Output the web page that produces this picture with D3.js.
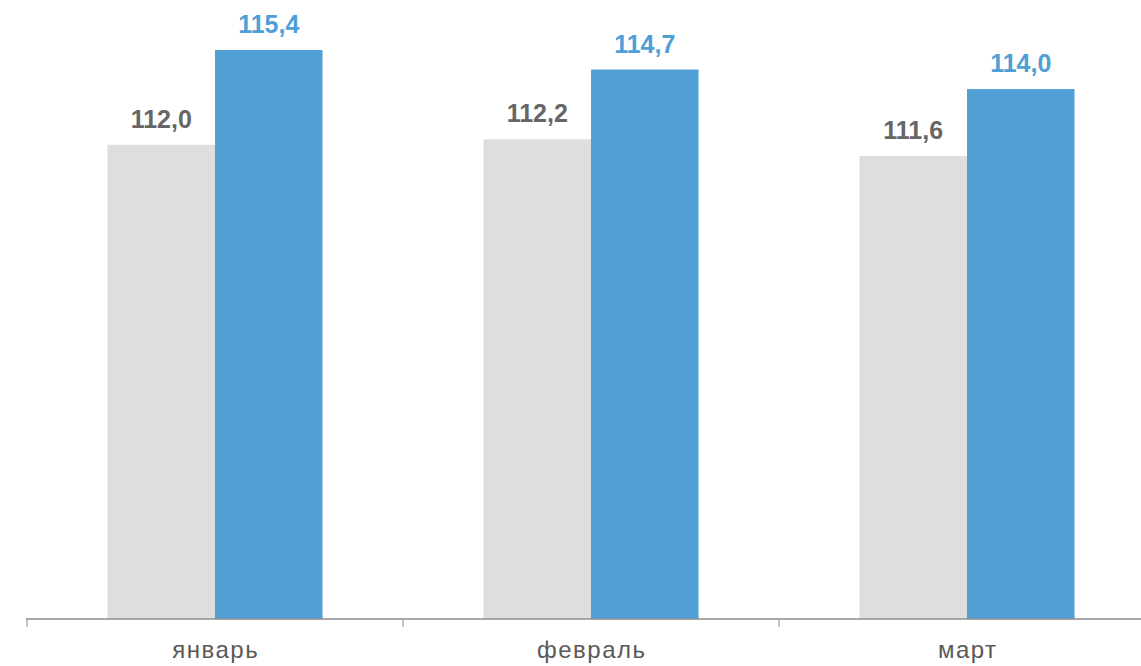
<!DOCTYPE html>
<html lang="ru">
<head>
<meta charset="UTF-8">
<title>Chart</title>
<script src="https://d3js.org/d3.v7.min.js"></script>
<style>
  body { margin: 0; background: #fff; }
  text { font-family: "Liberation Sans", Arial, sans-serif; }
</style>
</head>
<body>
<svg id="chart"></svg>
<script>
const months = ["январь", "февраль", "март"];
const seriesGray = [112.0, 112.2, 111.6];
const seriesBlue = [115.4, 114.7, 114.0];

const width = 1141, height = 666;
const baseY = 619;
const grayColor = "#dedede";
const blueColor = "#529fd6";

const svg = d3.select("#chart").attr("width", width).attr("height", height);

const x = d3.scaleBand().domain(months).range([27, 1155])
    .paddingInner(0.428).paddingOuter(0.214);
const sub = d3.scaleBand().domain(["gray", "blue"]).range([0, x.bandwidth()]);
const y = d3.scaleLinear().domain([95, 115.4]).range([baseY, 50]);

const fmt = v => d3.format(".1f")(v).replace(".", ",");

const rows = months.map((m, i) => ({m, gray: seriesGray[i], blue: seriesBlue[i]}));

const groups = svg.append("g").selectAll("g").data(rows).enter().append("g")
    .attr("transform", d => `translate(${x(d.m)},0)`);

[["gray", grayColor, "#666666"], ["blue", blueColor, "#4f9fd7"]].forEach(([key, fill, tc]) => {
    groups.append("rect")
        .attr("x", sub(key))
        .attr("width", sub.bandwidth())
        .attr("y", d => y(d[key]))
        .attr("height", d => baseY - y(d[key]))
        .attr("fill", fill);
    groups.append("text")
        .attr("x", sub(key) + sub.bandwidth() / 2)
        .attr("y", d => y(d[key]) - 17)
        .attr("text-anchor", "middle")
        .attr("font-size", 25)
        .attr("font-weight", "bold")
        .attr("fill", tc)
        .text(d => fmt(d[key]));
});

// axis
const axis = svg.append("g");
axis.append("line")
    .attr("x1", 26).attr("x2", width).attr("y1", baseY).attr("y2", baseY)
    .attr("stroke", "#8c8c8c").attr("stroke-width", 1.5);
const step = x.step();
axis.selectAll("line.tick").data(d3.range(months.length + 1)).enter().append("line")
    .attr("class", "tick")
    .attr("x1", i => 27 + i * step).attr("x2", i => 27 + i * step)
    .attr("y1", baseY).attr("y2", baseY + 8)
    .attr("stroke", "#8c8c8c").attr("stroke-width", 1);
axis.selectAll("text").data(months).enter().append("text")
    .attr("x", d => x(d) + x.bandwidth() / 2 + 0.75)
    .attr("y", 658)
    .attr("text-anchor", "middle")
    .attr("font-size", 24)
    .attr("letter-spacing", 1.5)
    .attr("fill", "#595959")
    .text(d => d);
</script>
</body>
</html>
